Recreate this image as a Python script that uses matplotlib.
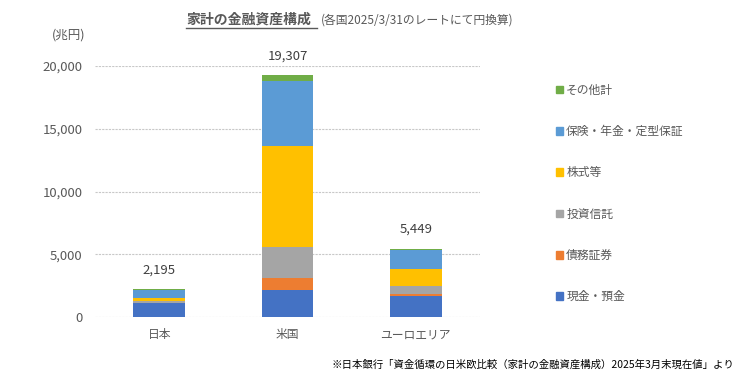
import matplotlib
matplotlib.use('Agg')
import matplotlib.pyplot as plt
from matplotlib.lines import Line2D
from matplotlib.patches import Patch
import numpy as np

plt.rcParams['font.family'] = ['Noto Sans CJK JP', 'DejaVu Sans']

regions = ['日本', '米国', 'ユーロエリア']
totals = [2195, 19307, 5449]

series_names = ['現金・預金', '債務証券', '投資信託', '株式等', '保険・年金・定型保証', 'その他計']
cash = [1117, 2170, 1700]
bonds = [29, 960, 140]
trusts = [134, 2460, 620]
stocks = [262, 8060, 1330]
insurance = [575, 5170, 1510]
other = [78, 487, 149]
colors = ['#4472C4', '#ED7D31', '#A5A5A5', '#FFC000', '#5B9BD5', '#70AD47']

text_gray = '#595959'

fig = plt.figure(figsize=(7.41, 3.84), dpi=100)
ax = fig.add_axes([95 / 741, 67 / 384, 385 / 741, 251 / 384])

x = np.arange(len(regions))
bottom = np.zeros(len(regions))
for name, vals, c in zip(series_names, [cash, bonds, trusts, stocks, insurance, other], colors):
    ax.bar(x, vals, width=0.4, bottom=bottom, color=c, label=name, zorder=3)
    bottom += np.array(vals)

for xi, t in zip(x, totals):
    ax.annotate(f'{t:,}', (xi, t), xytext=(0, 9), textcoords='offset points',
                ha='center', va='bottom', fontsize=9.5, color='#404040')

ax.set_xlim(-0.5, 2.5)
ax.set_ylim(0, 20000)
ax.set_yticks([0, 5000, 10000, 15000, 20000])
ax.set_yticklabels([f'{v:,}' for v in [0, 5000, 10000, 15000, 20000]])
ax.set_xticks(x)
ax.set_xticklabels(regions)
ax.tick_params(axis='both', length=0, labelsize=9.5, colors=text_gray, labelcolor=text_gray)
ax.tick_params(axis='x', labelsize=8.5, pad=8)
ax.tick_params(axis='y', pad=9)
ax.yaxis.grid(True, color='#C8C8C8', linestyle=(0, (2, 1)), linewidth=0.8, zorder=0)
for s in ax.spines.values():
    s.set_visible(False)

fig.text(52 / 741, 1 - 35 / 384, '(兆円)', fontsize=9, color=text_gray, ha='left', va='center')

# legend (reverse order like the original)
handles = [Patch(color=c) for c in colors][::-1]
labels = series_names[::-1]
fig.legend(handles, labels, loc='upper left', bbox_to_anchor=(545 / 741, 1 - 73 / 384),
           frameon=False, fontsize=8.5, labelcolor=text_gray, handlelength=0.6, handleheight=0.6,
           handletextpad=0.3, labelspacing=2.4)

# title
t1 = fig.text(186 / 741, 1 - 20 / 384, '家計の金融資産構成', fontsize=10, fontweight='bold',
              color=text_gray, ha='left', va='center')
fig.canvas.draw()
bb = t1.get_window_extent()
fig.text((bb.x1 + 10) / 741, 1 - 20 / 384, '(各国2025/3/31のレートにて円換算)', fontsize=8.5,
         color=text_gray, ha='left', va='center')
uy = (bb.y0 - 1) / 384
fig.add_artist(Line2D([bb.x0 / 741, (bb.x1 + 6) / 741], [uy, uy], color=text_gray, linewidth=1,
                      transform=fig.transFigure))

fig.text(734 / 741, 1 - 365 / 384,
         '※日本銀行「資金循環の日米欧比較（家計の金融資産構成）2025年3月末現在値」より',
         fontsize=7.5, color='black', ha='right', va='center')

fig.savefig('out.png', dpi=100)
